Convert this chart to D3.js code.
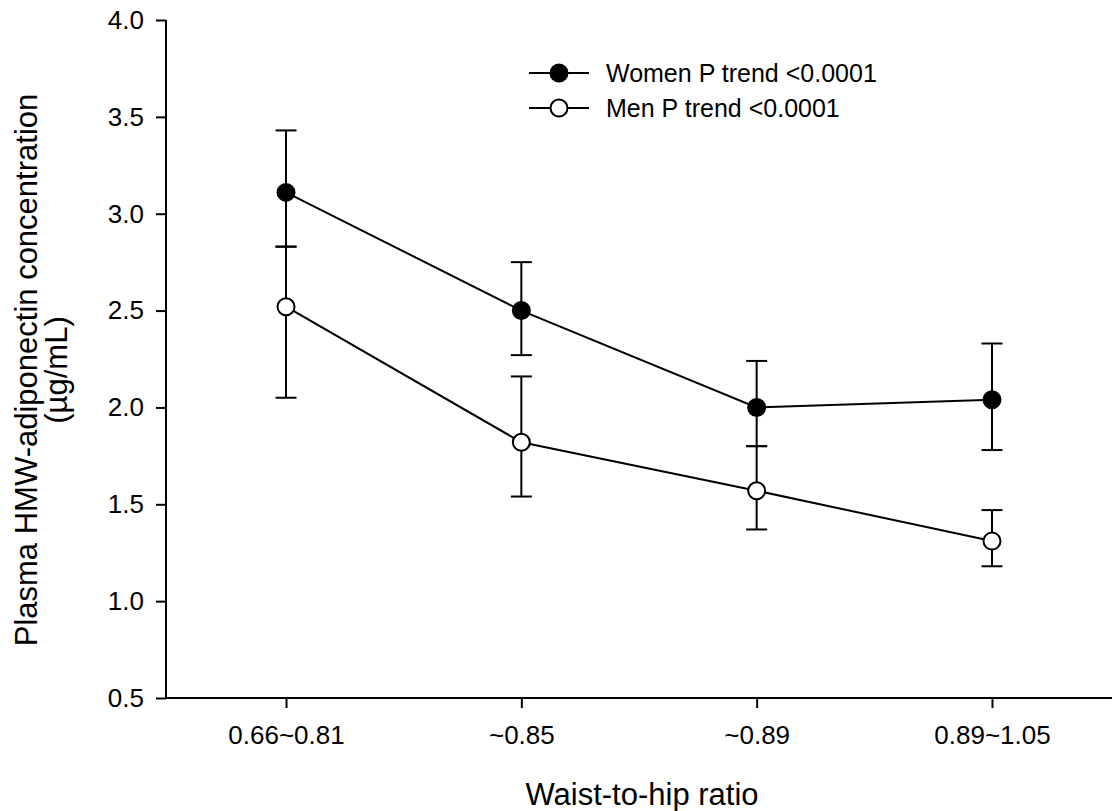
<!DOCTYPE html>
<html>
<head>
<meta charset="utf-8">
<script src="https://cdn.jsdelivr.net/npm/d3@7"></script>
<style>
  html, body { margin: 0; padding: 0; background: #fff; }
  svg { display: block; font-family: Arial, "Liberation Sans", sans-serif; }
</style>
</head>
<body>
<svg id="chart" width="1117" height="811"></svg>
<script>
const categories = ["0.66~0.81", "~0.85", "~0.89", "0.89~1.05"];
const womenMean = [3.11, 2.50, 2.00, 2.04];
const womenUpper = [3.43, 2.75, 2.24, 2.33];
const womenLower = [2.83, 2.27, 1.80, 1.78];
const menMean = [2.52, 1.82, 1.57, 1.31];
const menUpper = [2.83, 2.16, 1.80, 1.47];
const menLower = [2.05, 1.54, 1.37, 1.18];
const yTicks = [0.5, 1.0, 1.5, 2.0, 2.5, 3.0, 3.5, 4.0];
const seriesNames = ["Women P trend <0.0001", "Men P trend <0.0001"];

const svg = d3.select("#chart");
const x = d3.scalePoint().domain(categories).range([166, 1112]).padding(0.51);
const y = d3.scaleLinear().domain([0.5, 4.0]).range([698, 20]);

// axes
const yAxis = d3.axisLeft(y).tickValues(yTicks).tickSize(10).tickPadding(12)
  .tickFormat(d3.format(".1f"));
const gy = svg.append("g").attr("transform", "translate(166,0)").call(yAxis);
gy.select(".domain").attr("d", `M0,${y(4.0)}V${y(0.5)}`);

const xAxis = d3.axisBottom(x).tickSize(10).tickPadding(18).tickSizeOuter(0);
const gx = svg.append("g").attr("transform", "translate(0,698)").call(xAxis);
gx.select(".domain").attr("d", "M166,0H1112");

[gx, gy].forEach(g => {
  g.selectAll("path, line").attr("stroke", "#000").attr("stroke-width", 2);
  g.selectAll("text").attr("font-size", 26).attr("fill", "#000")
   .attr("font-family", "Arial, 'Liberation Sans', sans-serif");
});

// titles
svg.append("text").attr("x", 642).attr("y", 805)
  .attr("text-anchor", "middle").attr("font-size", 31).text("Waist-to-hip ratio");

const yt = svg.append("text").attr("transform", "translate(37,370) rotate(-90)")
  .attr("text-anchor", "middle").attr("font-size", 31);
yt.append("tspan").attr("x", 0).attr("y", 0).text("Plasma HMW-adiponectin concentration");
yt.append("tspan").attr("x", 0).attr("y", 30).text("(µg/mL)");

const series = [
  { name: seriesNames[0], mean: womenMean, up: womenUpper, lo: womenLower, fill: "#000" },
  { name: seriesNames[1], mean: menMean, up: menUpper, lo: menLower, fill: "#fff" }
];

const line = d3.line().x((d, i) => x(categories[i])).y(d => y(d));

series.forEach(s => {
  const g = svg.append("g");
  categories.forEach((c, i) => {
    const cx = x(c);
    g.append("line").attr("x1", cx).attr("x2", cx).attr("y1", y(s.up[i])).attr("y2", y(s.lo[i]))
      .attr("stroke", "#000").attr("stroke-width", 2);
    [s.up[i], s.lo[i]].forEach(v => {
      g.append("line").attr("x1", cx - 10.5).attr("x2", cx + 10.5).attr("y1", y(v)).attr("y2", y(v))
        .attr("stroke", "#000").attr("stroke-width", 2);
    });
  });
  g.append("path").datum(s.mean).attr("d", line).attr("fill", "none")
    .attr("stroke", "#000").attr("stroke-width", 2);
});
series.forEach(s => {
  svg.append("g").selectAll("circle").data(s.mean).join("circle")
    .attr("cx", (d, i) => x(categories[i])).attr("cy", d => y(d)).attr("r", 8.5)
    .attr("fill", s.fill).attr("stroke", "#000").attr("stroke-width", 2);
});

// legend
const legend = svg.append("g");
series.forEach((s, i) => {
  const ly = 73 + i * 35;
  legend.append("line").attr("x1", 529).attr("x2", 589).attr("y1", ly).attr("y2", ly)
    .attr("stroke", "#000").attr("stroke-width", 2);
  legend.append("circle").attr("cx", 559).attr("cy", ly).attr("r", 8.5)
    .attr("fill", s.fill).attr("stroke", "#000").attr("stroke-width", 2);
  legend.append("text").attr("x", 606).attr("y", ly).attr("dy", "0.35em")
    .attr("font-size", 25).text(s.name);
});
</script>
</body>
</html>
